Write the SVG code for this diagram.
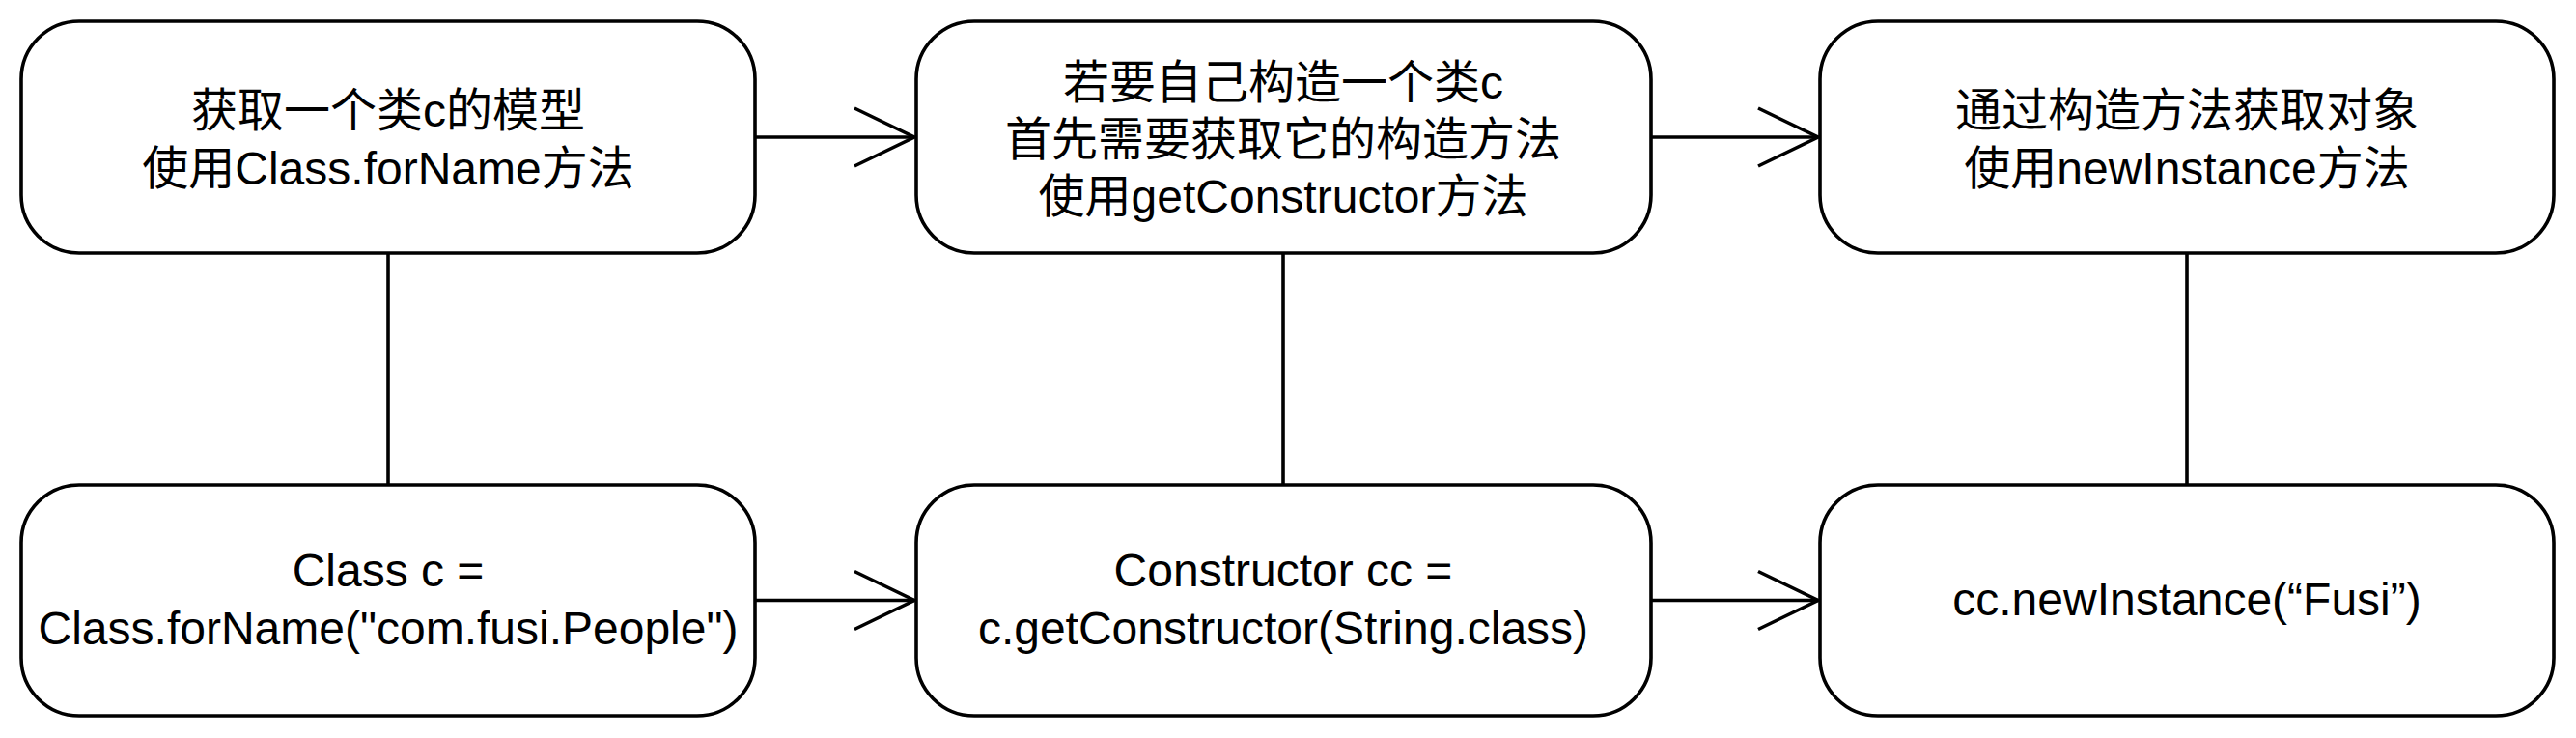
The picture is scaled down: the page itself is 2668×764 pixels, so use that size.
<svg xmlns="http://www.w3.org/2000/svg" width="2668" height="764" viewBox="0 0 2668 764">
  <style>
    .box { fill: #ffffff; stroke: #000000; stroke-width: 3.6; }
    .edge { fill: none; stroke: #000000; stroke-width: 3.6; }
    .lbl { font-family: "Liberation Sans", "Noto Sans CJK SC", Arial, sans-serif; font-size: 48px; fill: #000000; text-anchor: middle; }
  </style>
  <defs>
    <marker id="open" markerUnits="userSpaceOnUse" markerWidth="80" markerHeight="80" viewBox="-70 -40 80 80" refX="0" refY="0" orient="auto">
      <path d="M -62 -30 L 0 0 L -62 30" fill="none" stroke="#000000" stroke-width="3.6"/>
    </marker>
  </defs>
  <rect width="2668" height="764" fill="#ffffff"/>

  <g id="connectors">
    <line class="edge" x1="402" y1="262" x2="402" y2="502"/>
    <line class="edge" x1="1329" y1="262" x2="1329" y2="502"/>
    <line class="edge" x1="2265" y1="262" x2="2265" y2="502"/>
    <line class="edge" x1="782" y1="142" x2="947" y2="142" marker-end="url(#open)"/>
    <line class="edge" x1="1710" y1="142" x2="1883" y2="142" marker-end="url(#open)"/>
    <line class="edge" x1="782" y1="621.5" x2="947" y2="621.5" marker-end="url(#open)"/>
    <line class="edge" x1="1710" y1="621.5" x2="1883" y2="621.5" marker-end="url(#open)"/>
  </g>

  <g id="node-get-class-model">
    <rect class="box" x="22" y="22" width="760" height="240" rx="60" ry="60"/>
    <text class="lbl" x="402" y="131">获取一个类c的模型</text>
    <text class="lbl" x="402" y="191">使用Class.forName方法</text>
  </g>
  <g id="node-get-constructor">
    <rect class="box" x="949" y="22" width="761" height="240" rx="60" ry="60"/>
    <text class="lbl" x="1329" y="102">若要自己构造一个类c</text>
    <text class="lbl" x="1329" y="161">首先需要获取它的构造方法</text>
    <text class="lbl" x="1329" y="220">使用getConstructor方法</text>
  </g>
  <g id="node-new-instance">
    <rect class="box" x="1885" y="22" width="760" height="240" rx="60" ry="60"/>
    <text class="lbl" x="2265" y="131">通过构造方法获取对象</text>
    <text class="lbl" x="2265" y="191">使用newInstance方法</text>
  </g>
  <g id="node-class-forname-code">
    <rect class="box" x="22" y="502" width="760" height="239" rx="60" ry="60"/>
    <text class="lbl" x="402" y="607">Class c =</text>
    <text class="lbl" x="402" y="667">Class.forName("com.fusi.People")</text>
  </g>
  <g id="node-get-constructor-code">
    <rect class="box" x="949" y="502" width="761" height="239" rx="60" ry="60"/>
    <text class="lbl" x="1329" y="607">Constructor cc =</text>
    <text class="lbl" x="1329" y="667">c.getConstructor(String.class)</text>
  </g>
  <g id="node-new-instance-code">
    <rect class="box" x="1885" y="502" width="760" height="239" rx="60" ry="60"/>
    <text class="lbl" x="2265" y="637">cc.newInstance(“Fusi”)</text>
  </g>
</svg>
